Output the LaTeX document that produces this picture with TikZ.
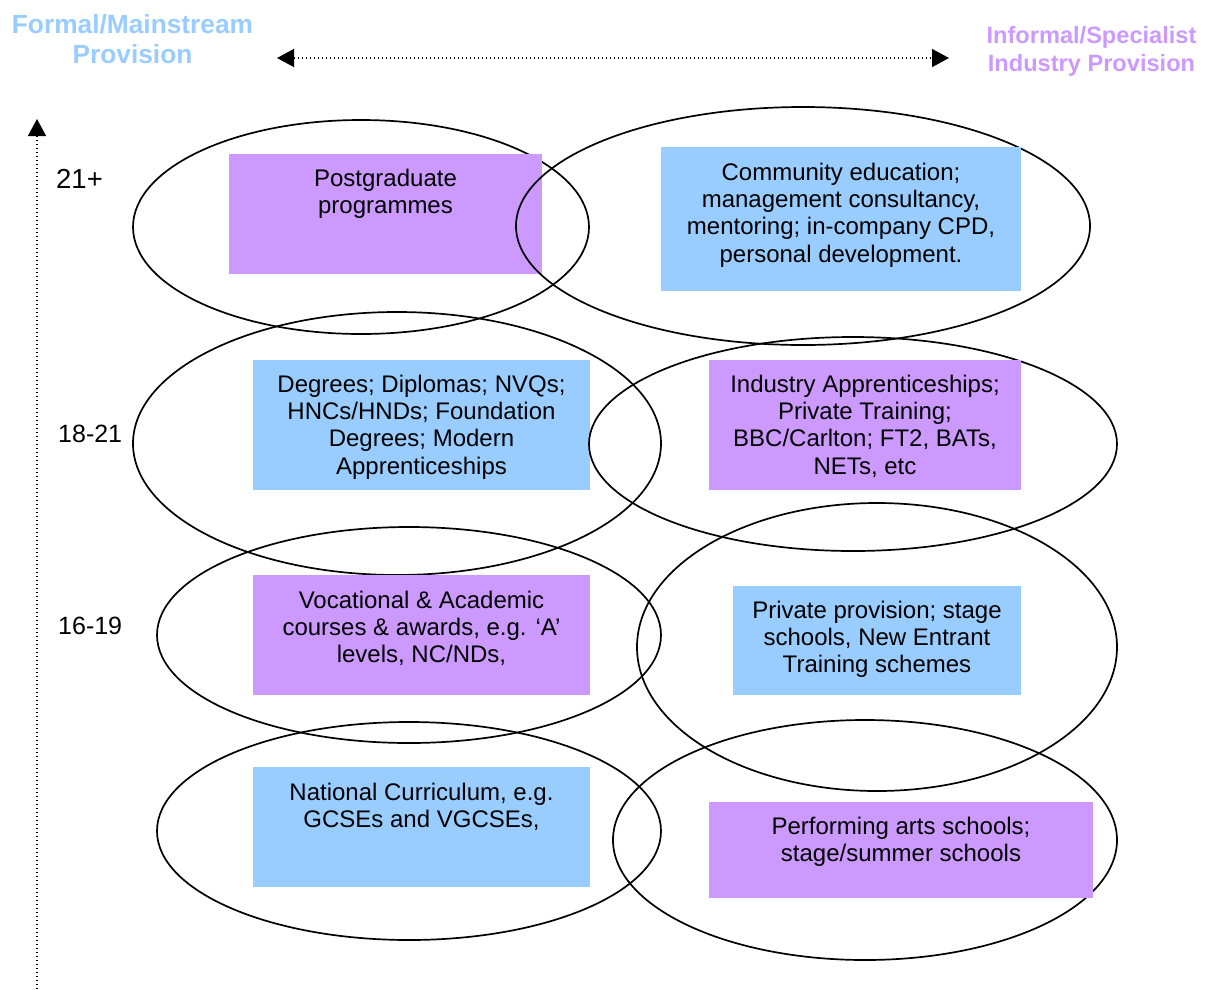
\documentclass[tikz,border=0pt]{standalone}
\usepackage{fontspec}
\setmainfont{Liberation Sans}
\usetikzlibrary{arrows.meta}
\definecolor{formalblue}{HTML}{99CCFF}
\definecolor{informalpurple}{HTML}{CC99FF}
\begin{document}
\begin{tikzpicture}[x=1pt,y=-1pt,
  ring/.style={draw=black, line width=1.7pt},
  panel/.style={inner sep=0pt, outer sep=0pt, draw=none},
  bluepanel/.style={panel, fill=formalblue},
  purplepanel/.style={panel, fill=informalpurple},
  paneltext/.style={anchor=north, inner sep=0pt, align=center,
    font=\fontsize{24}{27.4}\selectfont},
  agelabel/.style={anchor=base west, inner sep=0pt,
    font=\fontsize{25}{30}\selectfont},
  heading/.style={anchor=north, inner sep=0pt, align=center},
  axisline/.style={line width=1.5pt, dash pattern=on 1.5pt off 2.5pt},
  tip/.tip={Triangle[length=17pt,width=18pt]}]

\useasboundingbox (0,0) rectangle (1213,989);

% headings
\node[heading, text=formalblue,
  font=\bfseries\fontsize{26.3}{30}\selectfont] (formal) at (132.5,14)
  {Formal/Mainstream\\Provision};
\node[heading, text=informalpurple,
  font=\bfseries\fontsize{23.6}{28.4}\selectfont] (informal) at (1091.5,26)
  {Informal/Specialist\\Industry Provision};

% axes
\coordinate (hleft) at (277,58);
\coordinate (hright) at (949,58);
\draw[axisline, tip-tip] (hleft) -- (hright);
\coordinate (vbottom) at (37,989);
\coordinate (vtop) at (37,119);
\draw[axisline, -tip] (vbottom) -- (vtop);

% age bands
\node[agelabel, font=\fontsize{27.5}{30}\selectfont] (age21) at (56,188.5) {21+};
\node[agelabel] (age18) at (58,442) {18-21};
\node[agelabel] (age16) at (58,634) {16-19};

% 21+
\draw[ring] (361,227) ellipse [x radius=228, y radius=107];
\node[purplepanel, minimum width=313pt, minimum height=120pt] (pgbox) at (385.5,214) {};
\node[paneltext] (pgtext) at (385.5,168.5) {Postgraduate\\programmes};

\draw[ring] (803,226) ellipse [x radius=287, y radius=119];
\node[bluepanel, minimum width=360pt, minimum height=144pt] (cebox) at (841,219) {};
\node[paneltext] (cetext) at (841,162.5)
  {Community education;\\management consultancy,\\mentoring; in-company CPD,\\personal development.};

% 18-21
\draw[ring] (397,443.5) ellipse [x radius=264, y radius=131.5];
\node[bluepanel, minimum width=337pt, minimum height=130pt] (degbox) at (421.5,425) {};
\node[paneltext] (degtext) at (421.5,374.5)
  {Degrees; Diplomas; NVQs;\\HNCs/HNDs; Foundation\\Degrees; Modern\\Apprenticeships};

\draw[ring] (853,444) ellipse [x radius=264, y radius=107];
\node[purplepanel, minimum width=312pt, minimum height=130pt] (indbox) at (865,425) {};
\node[paneltext] (indtext) at (865,374.5)
  {Industry Apprenticeships;\\Private Training;\\BBC/Carlton; FT2, BATs,\\NETs, etc};

% 16-19
\draw[ring] (409,635) ellipse [x radius=252, y radius=108];
\node[purplepanel, minimum width=337pt, minimum height=120pt] (vocbox) at (421.5,635) {};
\node[paneltext] (voctext) at (421.5,590.5)
  {Vocational \& Academic\\courses \& awards, e.g. `A'\\levels, NC/NDs,};

\draw[ring] (877,647) ellipse [x radius=240, y radius=144];
\node[bluepanel, minimum width=288pt, minimum height=109pt] (privbox) at (877,640.5) {};
\node[paneltext] (privtext) at (877,600.5)
  {Private provision; stage\\schools, New Entrant\\Training schemes};

% school age
\draw[ring] (409,831) ellipse [x radius=252, y radius=109];
\node[bluepanel, minimum width=337pt, minimum height=120pt] (ncbox) at (421.5,827) {};
\node[paneltext] (nctext) at (421.5,782.5)
  {National Curriculum, e.g.\\GCSEs and VGCSEs,};

\draw[ring] (865,840) ellipse [x radius=252, y radius=120];
\node[purplepanel, minimum width=384pt, minimum height=96pt] (pabox) at (901,850) {};
\node[paneltext] (patext) at (901,816.5)
  {Performing arts schools;\\stage/summer schools};

\end{tikzpicture}
\end{document}
